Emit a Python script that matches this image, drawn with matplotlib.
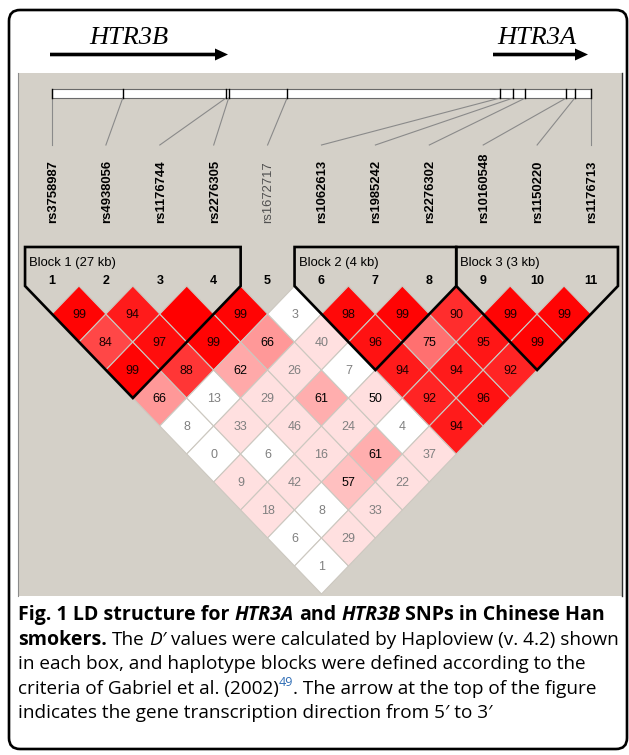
import matplotlib
matplotlib.use("Agg")
import matplotlib.pyplot as plt
from matplotlib.patches import Polygon, Rectangle, FancyBboxPatch

W, H = 629, 755

# SNPs in map order, with their offset along the region (kb)
snps = ["rs3758987", "rs4938056", "rs1176744", "rs2276305", "rs1672717",
        "rs1062613", "rs1985242", "rs2276302", "rs10160548", "rs1150220", "rs1176713"]
snp_kb = [0.0, 10.9, 26.8, 27.2, 36.2, 69.0, 71.0, 72.9, 79.2, 80.5, 83.0]

# pairwise D' (x100), row i holds SNP i against every later SNP
dprime = [
    [99, 84, 99, 66, 8, 0, 9, 18, 6, 1],
    [94, 97, 88, 13, 33, 6, 42, 8, 29],
    [100, 99, 62, 29, 46, 16, 57, 33],
    [99, 66, 26, 61, 24, 61, 22],
    [3, 40, 7, 50, 4, 37],
    [98, 96, 94, 92, 94],
    [99, 75, 94, 96],
    [90, 95, 92],
    [99, 99],
    [99],
]
# pairs (1-based) whose LOD falls below 2 -> drawn white
low_lod = [(1, 6), (1, 7), (1, 10), (1, 11), (2, 6), (2, 8), (2, 10),
           (5, 6), (5, 8), (5, 10)]

# haplotype blocks (first snp, last snp, label)
blocks = [(1, 4, "Block 1 (27 kb)"), (6, 8, "Block 2 (4 kb)"), (9, 11, "Block 3 (3 kb)")]
in_block = set(i for a, b, _ in blocks for i in range(a, b + 1))

# gene name, label centre, arrow start / end
genes = [("HTR3B", 129, 50, 228), ("HTR3A", 537, 493, 588)]

fig = plt.figure(figsize=(W / 100, H / 100), dpi=100)
ax = fig.add_axes([0, 0, 1, 1])
ax.set_xlim(0, W)
ax.set_ylim(H, 0)
ax.axis("off")

SANS = "Liberation Sans"
BG = "#d4d0c8"

# outer frame and haploview panel
ax.add_patch(FancyBboxPatch((9, 10), 618, 739, boxstyle="round,pad=0,rounding_size=11",
                            fc="white", ec="black", lw=1.9, zorder=0))
ax.add_patch(Rectangle((18, 73), 604, 523, fc=BG, ec="none", zorder=1))
ax.plot([18, 18], [73, 596], color="#8c8c8c", lw=0.8, zorder=2)
ax.plot([622, 622], [73, 596], color="#303030", lw=1.0, zorder=2)

# gene names and transcription arrows
for name, xc, x0, x1 in genes:
    ax.text(xc, 38, name, family="Liberation Serif", style="italic",
            fontsize=19, ha="center", va="center")
    ax.arrow(x0, 54.5, x1 - x0, 0, width=3.6, head_width=12, head_length=13,
             length_includes_head=True, fc="black", ec="black", lw=0)

# column geometry
n = len(snps)
x_first, x_last = 52.0, 591.0
step = (x_last - x_first) / (n - 1)
cols = [x_first + i * step for i in range(n)]
hw = step / 2
hh = 28.0
row1_y = 314.0

# physical map
bar_top, bar_bot = 89, 98
ax.add_patch(Rectangle((x_first, bar_top), x_last - x_first, bar_bot - bar_top,
                       fc="white", ec="#6a6a6a", lw=0.8, zorder=3))
span = snp_kb[-1] - snp_kb[0]
for kb, cx in zip(snp_kb, cols):
    px = x_first + (kb - snp_kb[0]) / span * (x_last - x_first)
    ax.plot([px, px], [bar_top, bar_bot], color="black", lw=1.0, zorder=4)
    ax.plot([px, cx], [bar_bot, 145], color="#8a8a8a", lw=0.8, zorder=3)

# snp names
for i, (name, cx) in enumerate(zip(snps, cols), start=1):
    bold = i in in_block
    ax.text(cx + 1, 223, name, rotation=90, ha="center", va="bottom", family=SANS,
            fontsize=9.4, fontweight="bold" if bold else "normal",
            color="black" if bold else "#505050", zorder=5)
    ax.text(cx, 281, str(i), ha="center", va="center", family=SANS, fontsize=9,
            fontweight="bold", zorder=5)


def cell_color(d, strong):
    if not strong:
        return (1, 1, 1)
    if d >= 100:
        return (1, 0, 0)
    g = min(224, 446 * (1 - d / 100)) / 255
    return (1, g, g)


# LD diamonds
for i, row in enumerate(dprime, start=1):
    for k, d in enumerate(row, start=1):
        j = i + k
        cx = (cols[i - 1] + cols[j - 1]) / 2
        cy = row1_y + (k - 1) * hh
        fc = cell_color(d, (i, j) not in low_lod)
        ax.add_patch(Polygon([(cx, cy - hh), (cx + hw, cy), (cx, cy + hh), (cx - hw, cy)],
                             closed=True, fc=fc, ec="#ccc8c0", lw=0.8, zorder=5))
        if d < 100:
            tc = "#808080" if d < 50 else ("#1c0000" if fc[1] < 0.3 else "black")
            ax.text(cx, cy + 1, str(d), ha="center", va="center", family=SANS,
                    fontsize=9, color=tc, zorder=6)

# block outlines and headers
head_top = 247
for a, b, label in blocks:
    xl, xr = cols[a - 1] - hw, cols[b - 1] + hw
    xm = (cols[a - 1] + cols[b - 1]) / 2
    ym = row1_y + (b - a) * hh
    ax.add_patch(Polygon([(xl, head_top), (xr, head_top), (xr, row1_y - hh), (xm, ym),
                          (xl, row1_y - hh)], closed=True, fill=False, ec="black",
                         lw=1.9, joinstyle="miter", zorder=7))
    ax.text(xl + 4, 263, label, ha="left", va="center", family=SANS, fontsize=9.4, zorder=7)

# caption
CAP = ["Open Sans", "DejaVu Sans"]
CAP_SIZE = 13.7
BOLD_SIZE = 14.1
LINK = "#2f6db5"
caption = [
    [("Fig. 1 LD structure for ", "bold", "normal"), ("HTR3A", "bold", "italic"),
     (" and ", "bold", "normal"), ("HTR3B", "bold", "italic"),
     (" SNPs in Chinese Han", "bold", "normal")],
    [("smokers.", "bold", "normal"), (" The ", "normal", "normal"), ("D\u2032", "normal", "italic"),
     (" values were calculated by Haploview (v. 4.2) shown", "normal", "normal")],
    [("in each box, and haplotype blocks were defined according to the", "normal", "normal")],
    [("criteria of Gabriel et al. (2002)", "normal", "normal"), ("49", "sup", "normal"),
     (". The arrow at the top of the figure", "normal", "normal")],
    [("indicates the gene transcription direction from 5\u2032 to 3\u2032", "normal", "normal")],
]
baselines = [620, 645, 669, 694, 718]

renderer = fig.canvas.get_renderer()


def width_of(s, **kw):
    t = ax.text(0, 0, s, **kw)
    w = t.get_window_extent(renderer).width
    t.remove()
    return w


for runs, base in zip(caption, baselines):
    x = 18.0
    for s, weight, style in runs:
        if weight == "sup":
            props = dict(family=CAP, fontsize=CAP_SIZE * 0.66, color=LINK)
            dy = -8
        else:
            props = dict(family=CAP, fontsize=BOLD_SIZE if weight == "bold" else CAP_SIZE,
                         fontweight=weight, fontstyle=style, color="black")
            dy = 0
        sp = width_of("x x", **props) - width_of("xx", **props)
        core = s.strip(" ")
        x += (len(s) - len(s.lstrip(" "))) * sp
        t = ax.text(x, base + dy, core, ha="left", va="baseline", **props)
        x += t.get_window_extent(renderer).width + (len(s) - len(s.rstrip(" "))) * sp

fig.savefig("out.png", dpi=100)
